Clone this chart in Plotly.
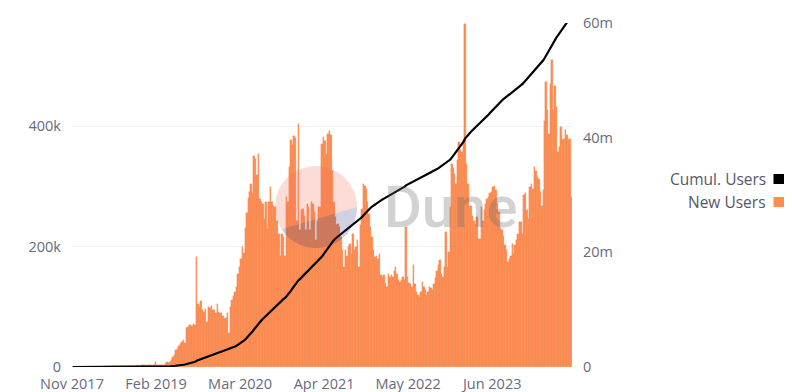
import math
import pandas as pd
import numpy as np
import plotly.graph_objects as go

# ---------------- data ----------------
week_start = "2017-11-20"
new_users_k = [
    0, 0, 0, 0, 0, 0, 0, 0, 0, 0,
    0.2, 0.4, 0.3, 0.5, 0.3, 0.6, 0.4, 0.5, 0.7, 0.6,
    0.8, 0.5, 0.9, 0.7, 1.0, 0.8, 1.1, 0.9, 1.2, 1.0,
    0.9, 1.3, 1.1, 1.4, 1.2, 1.5, 1.3, 1.6, 1.4, 1.2, 1.7,
    1.5, 2, 1.8, 2.5, 2, 2.2, 3, 2.5, 2.8, 2, 3, 2.5, 3.5, 3, 4, 8, 3, 2.5, 3, 3.5, 3, 4, 5, 8, 7,
    9, 11, 17, 20, 28, 30, 35, 39, 42, 44, 40, 64, 67, 69, 70, 68, 71, 70,
    183,
    104, 100, 110, 94, 92, 96, 75, 100, 98, 101, 94, 95, 90, 105, 92, 89, 90, 84, 80, 82,
    89, 56, 100, 111, 118, 125, 133, 155, 166,
    180, 200, 190, 230, 256, 280, 290, 304, 288, 351, 345, 318, 354, 279, 274,
    270, 246, 274, 229, 274, 299, 274, 268, 265, 243, 243, 221, 185, 221, 215,
    185, 282, 274, 332, 376, 368, 384, 380, 243, 404, 227, 260, 263, 250, 227,
    271, 265, 227, 274, 270, 257, 210, 243, 265, 265,
    370, 381, 375, 354, 387, 392, 385, 326, 274, 249, 235, 238, 232, 216, 194,
    166, 194, 185, 199, 205, 188, 221, 194, 200, 210, 166, 235, 263, 304, 300,
    296, 274, 254, 232, 216, 194, 182, 185, 180, 188, 152, 149, 152, 140, 133,
    155, 149, 152, 149, 160, 166, 155, 144, 141, 145, 149, 144,
    232, 149, 140, 138, 133, 169, 138, 124, 119, 116, 125, 141, 133, 128, 119,
    125, 133, 131, 127, 138, 147, 160, 170, 177, 155, 149, 166, 224, 166, 191,
    265, 337, 330, 321, 304, 343, 373, 360, 357, 376,
    570,
    337, 304, 268, 268, 250, 243, 238, 249, 213, 213, 265, 243, 260, 271, 279,
    282, 288, 290, 299, 301, 293, 270, 257, 230, 227, 218, 202, 194, 174, 180,
    185, 205, 188, 202, 210, 221, 241, 241, 221, 285, 288, 260, 246, 299, 304,
    296, 332, 326, 315, 312, 290, 268, 293, 409, 473, 426, 387, 470, 509, 426,
    467, 431, 357, 365, 398, 376, 379, 393, 385, 376, 379, 282,
]
tick_labels = ["Nov 2017", "Feb 2019", "Mar 2020", "Apr 2021", "May 2022", "Jun 2023"]
left_ticks = [0, 200000, 400000]
left_tick_text = ["0", "200k", "400k"]
right_ticks = [0, 20e6, 40e6, 60e6]
right_tick_text = ["0", "20m", "40m", "60m"]

# ---------------- derived ----------------
dates = pd.date_range(week_start, periods=len(new_users_k), freq="7D")
new_users = np.array(new_users_k) * 1000.0
cumul = np.cumsum(new_users)

x_start = dates[0] - pd.Timedelta(days=3.5)
x_end = dates[-1] + pd.Timedelta(days=3.5)
tick_step = (x_end - x_start) / 5.95
tick_vals = [x_start + pd.Timedelta(hours=1) + k * tick_step for k in range(len(tick_labels))]

BAR = "#ff8c50"
TXT = "#686b7c"
FONT = "Open Sans"

fig = go.Figure()
fig.add_trace(go.Bar(x=dates, y=new_users, name="New Users",
                     marker=dict(color=BAR, line=dict(color="#f07f45", width=0.3)),
                     yaxis="y"))
fig.add_trace(go.Scatter(x=dates, y=cumul, name="Cumul. Users", mode="lines",
                         line=dict(color="#000000", width=2.2), yaxis="y2"))

# page offset of the figure div (default body margin)
OFF = 8
W, H = 784, 384
# plot area in page pixels: x 72..572, y 23..367
PL, PR, PT, PB = 72, 572, 23, 367
L, T = PL - OFF, PT - OFF
R, B = W - (PR - OFF), H - (PB - OFF)
pw, ph = PR - PL, PB - PT

def px(x):
    return (x - PL) / pw

def py(y):
    return (PB - y) / ph

shapes = []
# watermark logo (circle split by a chord)
cx, cy, r = 316, 207, 41
a_left = math.radians(147)
def arc(a0, a1, n=40):
    pts = []
    for k in range(n + 1):
        a = a0 + (a1 - a0) * k / n
        pts.append((cx + r * math.cos(a), cy + r * math.sin(a)))
    return pts
def path_of(pts):
    return "M " + " L ".join(f"{px(x):.5f},{py(y):.5f}" for x, y in pts) + " Z"
shapes.append(dict(type="path", xref="paper", yref="paper", path=path_of(arc(a_left, 2 * math.pi)),
                   fillcolor="rgba(240,110,85,0.24)", line=dict(width=0), layer="above"))
shapes.append(dict(type="path", xref="paper", yref="paper", path=path_of(arc(0, a_left)),
                   fillcolor="rgba(40,50,120,0.22)", line=dict(width=0), layer="above"))

# custom legend markers (marker on the right of the text)
for yy, col in [(179, "#000000"), (202, BAR)]:
    shapes.append(dict(type="rect", xref="paper", yref="paper",
                       x0=px(773.5), x1=px(784), y0=py(yy + 5), y1=py(yy - 5),
                       fillcolor=col, line=dict(width=0)))

annotations = [
    dict(text="Dune", xref="paper", yref="paper", x=px(450), y=py(207), xanchor="center", yanchor="middle",
         showarrow=False, font=dict(family="Roboto", size=58, color="rgba(105,105,105,0.30)", weight=500)),
    dict(text="Cumul. Users", xref="paper", yref="paper", x=px(768), y=py(179), xanchor="right",
         yanchor="middle", showarrow=False, font=dict(family=FONT, size=15.5, color="#555868")),
    dict(text="New Users", xref="paper", yref="paper", x=px(768), y=py(202), xanchor="right",
         yanchor="middle", showarrow=False, font=dict(family=FONT, size=15.5, color="#555868")),
]

fig.update_layout(
    width=W, height=H,
    margin=dict(l=L, r=R, t=T, b=B, pad=0, autoexpand=False),
    paper_bgcolor="white", plot_bgcolor="white",
    showlegend=False, bargap=0,
    font=dict(family=FONT, size=14, color=TXT),
    xaxis=dict(type="date", range=[x_start, x_end], tickvals=tick_vals, ticktext=tick_labels,
               showgrid=False, zeroline=False, showline=False, ticks="", automargin=False,
               ticklabelstandoff=6, tickfont=dict(size=14.5)),
    yaxis=dict(range=[0, 571000], tickvals=left_ticks, ticktext=left_tick_text, automargin=False,
               showgrid=True, gridcolor="#efefef", gridwidth=1, zeroline=False, ticks="",
               ticklabelstandoff=10, tickfont=dict(size=14.5)),
    yaxis2=dict(range=[0, 60e6], tickvals=right_ticks, ticktext=right_tick_text, overlaying="y",
                side="right", showgrid=False, zeroline=False, ticks="", automargin=False,
                ticklabelstandoff=10, tickfont=dict(size=14.5)),
    shapes=shapes, annotations=annotations,
)

fig.write_html("out.html")
